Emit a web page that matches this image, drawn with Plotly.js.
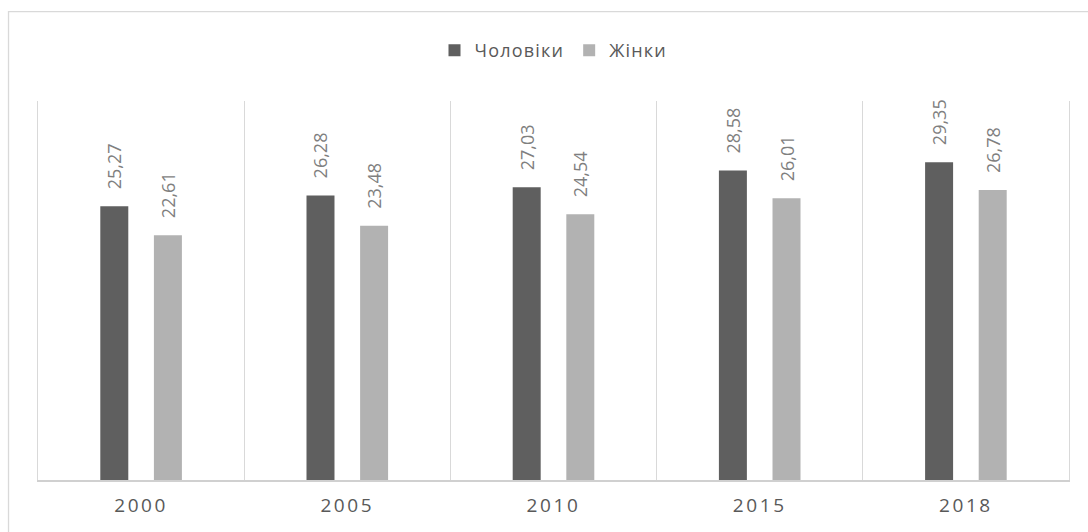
<!DOCTYPE html>
<html>
<head>
<meta charset="utf-8">
<script src="https://cdn.plot.ly/plotly-3.0.1.min.js"></script>
<style>
  html, body { margin: 0; padding: 0; background: #fff; }
  #chart { width: 1088px; height: 532px; }
  .xtick text { letter-spacing: 2.6px; }
  .legendtext { letter-spacing: 1.2px; }
</style>
</head>
<body>
<div id="chart"></div>
<script>
const years = ["2000", "2005", "2010", "2015", "2018"];
const men = [25.27, 26.28, 27.03, 28.58, 29.35];
const women = [22.61, 23.48, 24.54, 26.01, 26.78];
const seriesNames = ["Чоловіки", "Жінки"];

const labelFont = { family: "Open Sans, sans-serif", size: 18, color: "#7f7f7f" };

const traces = [
  {
    type: "bar", name: seriesNames[0], x: years, y: men,
    marker: { color: "#5f5f5f" },
    texttemplate: "\u00a0\u00a0\u00a0%{y:.2f}", textposition: "outside", textangle: -90,
    constraintext: "none",
    textfont: labelFont, cliponaxis: false, hoverinfo: "skip"
  },
  {
    type: "bar", name: seriesNames[1], x: years, y: women,
    marker: { color: "#b2b2b2" },
    texttemplate: "\u00a0\u00a0\u00a0%{y:.2f}", textposition: "outside", textangle: -90,
    constraintext: "none",
    textfont: labelFont, cliponaxis: false, hoverinfo: "skip"
  }
];

const layout = {
  width: 1088, height: 532,
  margin: { l: 38, r: 19, t: 101, b: 52 },
  paper_bgcolor: "#ffffff", plot_bgcolor: "#ffffff",
  separators: ", ",
  barmode: "group", bargap: 0.48, bargroupgap: 0.478,
  showlegend: true,
  legend: {
    orientation: "h", x: 0.5, xanchor: "center", y: 1.133, yanchor: "middle",
    font: { family: "Open Sans, sans-serif", size: 18, color: "#595959" },
    itemwidth: 30, traceorder: "normal"
  },
  xaxis: {
    type: "category", range: [-0.5, 4.5],
    tickson: "boundaries", showgrid: true, gridcolor: "#d9d9d9", gridwidth: 1,
    showline: true, linecolor: "#d0d0d0", linewidth: 1.5,
    ticks: "", ticklabelstandoff: 8,
    tickfont: { family: "Open Sans, sans-serif", size: 19, color: "#595959" },
    zeroline: false
  },
  yaxis: {
    range: [0, 35], showgrid: false, zeroline: false, fixedrange: true,
    showticklabels: false, ticks: "",
    showline: true, mirror: true, linecolor: "#d9d9d9", linewidth: 1
  },
  shapes: [{
    type: "rect", xref: "paper", yref: "paper",
    x0: -0.0286, x1: 1.2, y0: -0.3, y1: 1.2356,
    line: { color: "#d9d9d9", width: 1.3 }, fillcolor: "rgba(0,0,0,0)", layer: "below"
  }]
};

Plotly.newPlot("chart", traces, layout, { displayModeBar: false, staticPlot: true });
</script>
</body>
</html>
